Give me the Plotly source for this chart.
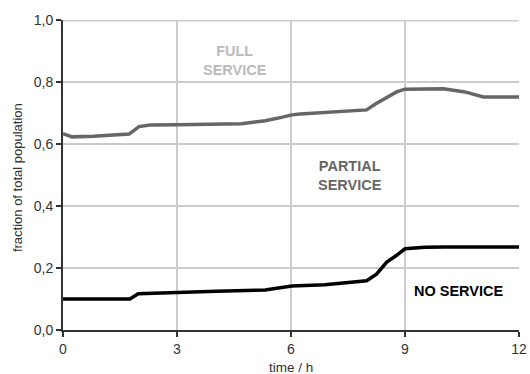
import plotly.graph_objects as go

# time axis (hours) and the two boundary curves between service levels
t_upper = [0, 0.24, 0.8, 1.74, 2.0, 2.29, 3.0, 4.7, 5.05, 5.32, 5.75, 6.02, 6.24,
           6.98, 7.99, 8.21, 8.56, 8.78, 9.0, 10.01, 10.58, 10.84, 11.06, 12]
upper = [0.633, 0.623, 0.625, 0.632, 0.656, 0.661, 0.662, 0.665, 0.671, 0.675, 0.686,
         0.694, 0.697, 0.702, 0.710, 0.728, 0.753, 0.768, 0.777, 0.778, 0.768, 0.760,
         0.752, 0.752]

t_lower = [0, 1.76, 1.98, 2.99, 4.04, 5.32, 6.02, 6.89, 7.5, 7.99, 8.25, 8.52, 8.78,
           9.0, 9.53, 10.05, 12]
lower = [0.100, 0.100, 0.117, 0.122, 0.125, 0.129, 0.142, 0.146, 0.152, 0.159, 0.180,
         0.219, 0.241, 0.262, 0.267, 0.268, 0.268]

x_ticks = [0, 3, 6, 9, 12]
y_ticks = [0.0, 0.2, 0.4, 0.6, 0.8, 1.0]

FONT = "Liberation Sans, Arial, sans-serif"

fig = go.Figure()
fig.add_trace(go.Scatter(x=t_upper, y=upper, mode="lines",
                         line=dict(color="#666666", width=3.5), hoverinfo="skip"))
fig.add_trace(go.Scatter(x=t_lower, y=lower, mode="lines",
                         line=dict(color="#000000", width=3.5), hoverinfo="skip"))

# region labels
labels = [
    (4.53, 0.869, "FULL<br>SERVICE", "#bbbbbb"),
    (7.55, 0.497, "PARTIAL<br>SERVICE", "#666666"),
    (10.42, 0.126, "NO SERVICE", "#000000"),
]
for x, y, txt, col in labels:
    fig.add_annotation(x=x, y=y, text="<b>" + txt + "</b>", showarrow=False,
                       font=dict(family=FONT, size=14.5, color=col),
                       xanchor="center", yanchor="middle")

# axis titles
fig.add_annotation(xref="paper", yref="paper", x=0.5, y=0, yshift=-37,
                   text="time / h", showarrow=False, xanchor="center", yanchor="middle",
                   font=dict(family=FONT, size=13.5, color="#333333"))
fig.add_annotation(xref="paper", yref="paper", x=0, y=0.49, xshift=-46,
                   text="fraction of total population", showarrow=False, textangle=-90,
                   xanchor="center", yanchor="middle",
                   font=dict(family=FONT, size=13, color="#333333"))

# light border along the top of the plot
fig.add_shape(type="line", xref="x", yref="y", x0=0, x1=12, y0=1.0, y1=1.0,
              line=dict(color="#cccccc", width=3), layer="below")

fig.update_layout(
    width=530, height=374,
    margin=dict(l=63, r=11, t=20, b=44, autoexpand=False),
    paper_bgcolor="white", plot_bgcolor="white",
    showlegend=False,
    separators=",.",
    font=dict(family=FONT, size=14, color="#333333"),
)
fig.update_xaxes(
    range=[0, 12], tickvals=x_ticks, ticks="outside", ticklen=5, tickwidth=1.5,
    tickcolor="#333333", showline=True, linecolor="#333333", linewidth=2,
    showgrid=True, gridcolor="#cccccc", gridwidth=1.5, zeroline=False,
    tickfont=dict(size=14, color="#333333"), automargin=False,
)
fig.update_yaxes(
    range=[0, 1.0], tickvals=y_ticks, tickformat=".1f", ticks="outside", ticklen=5,
    tickwidth=1.5, tickcolor="#333333", showline=True, linecolor="#333333", linewidth=2,
    showgrid=True, gridcolor="#cccccc", gridwidth=1.5, zeroline=False,
    tickfont=dict(size=14, color="#333333"), automargin=False,
)

fig.write_html("out.html")
